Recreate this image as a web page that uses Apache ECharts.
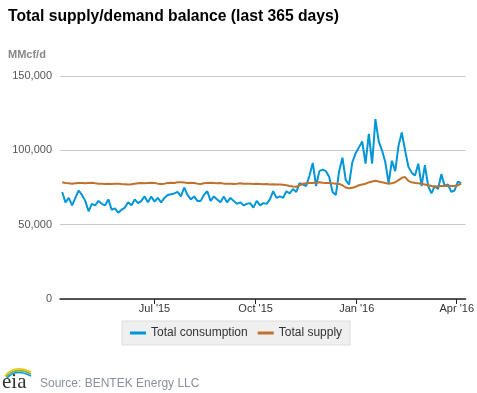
<!DOCTYPE html>
<html>
<head>
<meta charset="utf-8">
<script src="https://cdn.jsdelivr.net/npm/echarts@6/dist/echarts.min.js"></script>
<style>
html,body{margin:0;padding:0;background:#fff;}
#c{width:477px;height:393px;}
</style>
</head>
<body>
<div id="c"></div>
<script>
// Data: one value every 3 days starting 2015-04-08 (thousand MMcf/d)
var startDate = [2015, 3, 8];
var stepDays = 3;
var consumption = [
72,65,68,63,68,73,70,66,59,64,
63,66,64,63,67,60,61,58,60,61.5,
65,63,67,64.5,66,69,65,69,65.5,68,
65,68,70,70.5,71,72,69,75,70,67,
69,66,66,70,72.5,66,69,67,65,69,
65,68,66,64,65,63,64,64.5,61.5,66,
63,64.5,64,67,72.5,68,69,68,72.5,71,
74,72,78,77,76,83,91.5,76,86,87,
86,82,72,70,86,95,80,77,92,98,
102,106,91,111,91,121,106,100,92,78,
93,86,103,112,100,89,85,83,91,76,
90,76,71,76,74,84,76,77,72,73,
79,78
];
var supply = [
78.5,78,77.8,77.5,77.8,78,78,77.8,78,78.2,
77.8,77.5,77.6,77.4,77.5,77.3,77.5,77.6,77.3,77.2,
77,77.2,77.5,77.8,78,77.8,78,78.2,78,77.6,
77.4,77.6,78,78.2,78,78.5,78.6,78.4,78,78.2,
78,77.6,77.4,77.8,78,78.2,78,77.8,78,77.6,
77.5,77.6,77.4,77.5,77.8,77.5,77.5,77.6,77.4,77.6,
77.4,77.2,77.4,77,77.2,77,77,76.8,76.5,76,
75.6,75.5,76.5,77.5,77.8,78,78,78.4,78.6,78.2,
78,78,77.8,77.5,77.4,76.5,75,74.5,74.8,75.5,
76.5,77,77.5,78.5,79,79.5,79,78.5,78,77.5,
77.8,78.5,80,81.5,82,79.5,78.5,78,77.8,77.5,
77,76.5,76,75.5,75.8,76,76,76.2,76,76,
76.5,77.5
];
var tickDates = [[2015,6,1],[2015,9,1],[2016,0,1],[2016,3,1]];
var monthNames = ['Jan','Feb','Mar','Apr','May','Jun','Jul','Aug','Sep','Oct','Nov','Dec'];

function ts(a){ return new Date(a[0], a[1], a[2]).getTime(); }
var t0 = ts(startDate);
var DAY = 86400000;
function pairs(arr){
  return arr.map(function(v,i){ return [t0 + i*stepDays*DAY, v*1000]; });
}
var tickValues = tickDates.map(ts);

var chart = echarts.init(document.getElementById('c'), null, {renderer:'canvas'});
chart.setOption({
  animation:false,
  backgroundColor:'#fff',
  textStyle:{fontFamily:'"Liberation Sans", Arial, sans-serif'},
  title:[
    {text:'Total supply/demand balance (last 365 days)', left:8, top:9, padding:0,
     textStyle:{fontSize:15.7, fontWeight:'bold', color:'#000', fontFamily:'"Liberation Sans", Arial, sans-serif'}},
    {text:'MMcf/d', left:8, top:49, padding:0,
     textStyle:{fontSize:11, fontWeight:'bold', color:'#888', fontFamily:'"Liberation Sans", Arial, sans-serif'}}
  ],
  grid:{left:60, right:10, top:76, bottom:94},
  legend:{
    left:122, top:321,
    backgroundColor:'#efefef', borderColor:'#dddddd', borderWidth:1,
    padding:[6,8,6,8], itemGap:10,
    icon:'rect', itemWidth:16, itemHeight:3,
    textStyle:{fontSize:12, color:'#333'},
    data:['Total consumption','Total supply']
  },
  xAxis:{
    type:'value',
    min: ts([2015,3,6]), max: ts([2016,3,9]),
    axisLine:{show:true, lineStyle:{color:'#222', width:1.5}},
    axisTick:{show:true, length:5, lineStyle:{color:'#222'}, customValues: tickValues},
    axisLabel:{color:'#333', fontSize:11, margin:4, customValues: tickValues,
      formatter:function(v){ var d=new Date(v); return monthNames[d.getMonth()]+" '"+String(d.getFullYear()).slice(2); }},
    splitLine:{show:false}
  },
  yAxis:{
    type:'value', min:0, max:150000, interval:50000,
    axisLine:{show:false}, axisTick:{show:false},
    axisLabel:{color:'#555', fontSize:11, margin:8,
      formatter:function(v){ return v.toLocaleString('en-US'); }},
    splitLine:{show:true, lineStyle:{color:'#c8c8c8', width:1}}
  },
  series:[
    {name:'Total consumption', type:'line', data:pairs(consumption), showSymbol:false,
     lineStyle:{color:'#0096d7', width:2}, itemStyle:{color:'#0096d7'}, z:2},
    {name:'Total supply', type:'line', data:pairs(supply), showSymbol:false,
     lineStyle:{color:'#c0722c', width:2}, itemStyle:{color:'#c0722c'}, z:3}
  ],
  graphic:[
    {type:'bezierCurve', shape:{x1:5, y1:376, cpx1:14, cpy1:364, x2:31, y2:372}, style:{stroke:'#f2c300', lineWidth:1.5, fill:null}},
    {type:'bezierCurve', shape:{x1:6, y1:377, cpx1:15, cpy1:366, x2:31, y2:374}, style:{stroke:'#7cb342', lineWidth:1.5, fill:null}},
    {type:'bezierCurve', shape:{x1:7, y1:378, cpx1:16, cpy1:368, x2:31, y2:376}, style:{stroke:'#0096d7', lineWidth:1.5, fill:null}},
    {type:'text', left:2, top:372, style:{text:'eia', font:'21px "Liberation Serif", serif', fill:'#333'}},
    {type:'text', left:40, top:378, style:{text:'Source: BENTEK Energy LLC', font:'12px "Liberation Sans", Arial, sans-serif', fill:'#8a8fa0'}}
  ]
});
</script>
</body>
</html>
